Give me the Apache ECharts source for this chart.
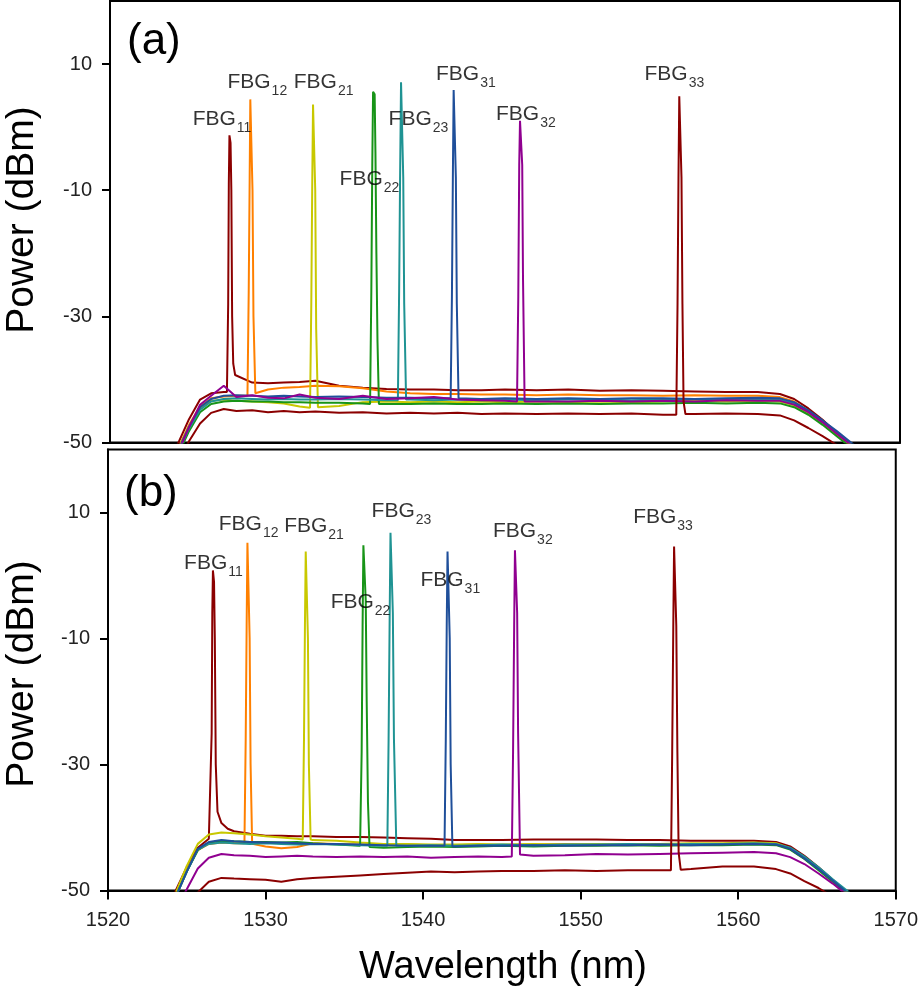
<!DOCTYPE html>
<html>
<head>
<meta charset="utf-8">
<script src="https://cdn.jsdelivr.net/npm/echarts@6/dist/echarts.min.js"></script>
<style>
  html, body { margin: 0; padding: 0; background: #fff; }
  #chart { width: 921px; height: 1000px; }
</style>
</head>
<body>
<div id="chart"></div>
<script>
'use strict';

// wavelength grid (nm) shared by the broadband floor of every trace
var wl = [1523.6, 1524.3, 1525.0, 1525.7, 1526.4, 1527.2, 1528.0, 1529.0, 1530.0, 1531.0,
  1532.0, 1533.0, 1534.5, 1536.0, 1537.5, 1539.0, 1540.5, 1542.0, 1543.5, 1545.0,
  1547.0, 1549.0, 1551.0, 1553.0, 1555.0, 1557.0, 1559.0, 1561.0, 1562.4, 1563.3,
  1564.2, 1565.1, 1566.0, 1566.8, 1567.6];

var fbgIds = ['11', '12', '21', '22', '23', '31', '32', '33'];

// panel (a) floors, dBm on wl
var floorA11 = [-53.5, -50.2, -46.3, -43.2, -42.2, -42.0, -39.6, -40.5, -40.6, -40.5, -40.4, -40.2, -41.0, -41.3, -41.5, -41.6, -41.6, -41.7, -41.7, -41.6, -41.7, -41.6, -41.8, -41.7, -41.8, -41.9, -42.0, -42.0, -42.3, -43.1, -44.6, -46.4, -48.5, -50.5, -53];
var floorA12 = [-54, -51, -47.2, -44.3, -43.0, -42.7, -42.6, -42.5, -41.6, -41.3, -41.2, -41.0, -41.1, -41.4, -41.9, -42.2, -42.3, -42.3, -42.4, -42.4, -42.5, -42.4, -42.5, -42.5, -42.6, -42.5, -42.6, -42.6, -42.8, -43.5, -45.0, -46.7, -48.5, -50.1, -52];
var floorA21 = [-54.2, -51.2, -47.5, -44.6, -43.4, -43.2, -43.4, -43.5, -43.6, -43.8, -44.3, -43.8, -44.2, -43.6, -43.5, -43.6, -43.5, -43.6, -43.5, -43.6, -43.5, -43.6, -43.5, -43.6, -43.5, -43.4, -43.5, -43.4, -43.5, -44.1, -45.4, -47.0, -48.8, -50.3, -52];
var floorA22 = [-55, -52, -48.2, -45.2, -43.9, -43.5, -43.4, -43.5, -43.5, -43.6, -43.6, -43.7, -43.7, -43.8, -43.9, -43.9, -43.8, -43.9, -43.9, -43.8, -43.9, -43.8, -43.9, -43.8, -43.8, -43.7, -43.8, -43.7, -43.8, -44.4, -45.6, -47.2, -49.0, -50.6, -52.3];
var floorA23 = [-54.6, -51.6, -47.8, -44.8, -43.5, -43.1, -43.0, -43.1, -43.2, -43.1, -43.2, -43.2, -43.1, -43.2, -43.3, -43.2, -43.3, -43.2, -43.3, -43.2, -43.3, -43.2, -43.2, -43.3, -43.2, -43.1, -43.2, -43.1, -43.2, -43.8, -45.1, -46.8, -48.5, -50, -51.7];
var floorA31 = [-54.4, -51.3, -47.5, -44.4, -43.1, -42.6, -42.5, -42.6, -42.7, -42.6, -42.7, -42.8, -42.7, -42.8, -42.9, -42.9, -43.0, -43.0, -43.1, -43.0, -43.1, -43.0, -43.1, -43.0, -43.0, -43.1, -43.0, -42.9, -43.0, -43.6, -44.9, -46.5, -48.2, -49.8, -51.4];
var floorA32 = [-54.8, -51.6, -47.6, -44.0, -42.6, -41.0, -42.8, -42.5, -42.9, -43.0, -42.4, -42.9, -43.1, -42.6, -43.1, -43.0, -42.8, -43.2, -43.3, -43.4, -43.5, -43.5, -43.4, -43.5, -43.4, -43.5, -43.3, -43.4, -43.4, -44.0, -45.2, -46.8, -48.6, -50.2, -52];
var floorA33 = [-57, -53.5, -49.8, -47.0, -45.3, -44.7, -45.0, -44.9, -45.2, -45.0, -45.2, -45.1, -45.3, -45.2, -45.4, -45.3, -45.4, -45.3, -45.5, -45.4, -45.5, -45.4, -45.5, -45.4, -45.6, -45.5, -45.4, -45.5, -45.7, -46.5, -47.7, -49.0, -50.4, -52, -54];

// panel (a) reflection peaks, [nm, dBm]
var peakA11 = [[1527.4, -42.0], [1527.48, -28], [1527.52, -9], [1527.56, -1.3], [1527.63, -2.5], [1527.68, -10], [1527.73, -30], [1527.8, -37.5], [1527.92, -39.3]];
var peakA12 = [[1528.7, -42.6], [1528.78, -26], [1528.84, -8], [1528.88, 4.4], [1528.97, 4.2], [1529.02, -10], [1529.08, -30], [1529.2, -42.2]];
var peakA21 = [[1532.66, -44.5], [1532.74, -28], [1532.8, -9], [1532.85, 3.6], [1532.94, 3.4], [1532.99, -10], [1533.05, -32], [1533.16, -44.4]];
var peakA22 = [[1536.46, -43.9], [1536.54, -26], [1536.6, -6], [1536.65, 5.6], [1536.75, 5.2], [1536.8, -4], [1536.86, -20], [1536.93, -34], [1537.02, -43.9]];
var peakA23 = [[1538.22, -43.3], [1538.3, -26], [1538.36, -8], [1538.42, 7.1], [1538.51, 6.8], [1538.56, -8], [1538.62, -28], [1538.74, -43.2]];
var peakA31 = [[1541.56, -43.0], [1541.64, -27], [1541.7, -8], [1541.75, 5.9], [1541.84, 5.6], [1541.89, -8], [1541.95, -28], [1542.06, -43.0]];
var peakA32 = [[1545.76, -43.5], [1545.84, -27], [1545.9, -6], [1545.95, 1.0], [1546.04, 0.8], [1546.09, -6], [1546.14, -24], [1546.24, -43.5]];
var peakA33 = [[1555.84, -45.6], [1555.92, -28], [1555.98, -8], [1556.03, 4.9], [1556.12, 4.6], [1556.17, -8], [1556.23, -28], [1556.3, -43.5], [1556.42, -45.5]];

// panel (b) floors
var floorB11 = [-53.5, -50, -46.3, -43.2, -41.8, -39.3, -40.6, -41.0, -41.3, -41.3, -41.4, -41.4, -41.5, -41.5, -41.6, -41.7, -41.8, -42.0, -42.0, -42.0, -41.9, -41.9, -41.9, -42.0, -42.0, -42.1, -42.1, -42.1, -42.3, -43.0, -44.5, -46.3, -48.3, -50.3, -52.5];
var floorB12 = [-54, -50.6, -46.7, -43.6, -42.6, -42.4, -42.5, -42.6, -43.0, -43.3, -43.1, -42.5, -42.6, -42.7, -42.8, -42.7, -42.8, -42.8, -42.7, -42.8, -42.7, -42.6, -42.7, -42.6, -42.6, -42.7, -42.6, -42.5, -42.6, -43.4, -44.9, -46.6, -48.4, -50.0, -52];
var floorB21 = [-54, -50.4, -46.1, -42.6, -41.1, -40.8, -40.9, -41.1, -41.4, -41.6, -41.8, -42.0, -42.1, -42.4, -42.6, -42.6, -42.7, -42.7, -42.6, -42.7, -42.6, -42.7, -42.6, -42.7, -42.6, -42.5, -42.5, -42.4, -42.5, -43.3, -44.8, -46.6, -48.4, -50.1, -52];
var floorB22 = [-54.5, -51, -47, -43.6, -42.4, -42.1, -42.2, -42.3, -42.3, -42.4, -42.3, -42.5, -42.7, -42.9, -43.2, -43.1, -43.0, -43.1, -43.0, -42.9, -43.0, -42.9, -42.9, -42.8, -42.9, -42.8, -42.8, -42.7, -42.8, -43.5, -45.0, -46.8, -48.6, -50.2, -52];
var floorB23 = [-54.5, -51, -47, -43.5, -42.6, -42.4, -42.5, -42.6, -42.5, -42.6, -42.7, -42.6, -42.7, -42.8, -42.9, -42.9, -42.8, -42.9, -42.8, -42.7, -42.8, -42.7, -42.7, -42.6, -42.7, -42.6, -42.6, -42.5, -42.6, -43.2, -44.6, -46.3, -48.2, -49.8, -51.5];
var floorB31 = [-54.5, -51, -47, -43.4, -42.3, -42.0, -42.2, -42.3, -42.4, -42.4, -42.5, -42.6, -42.6, -42.7, -42.8, -42.9, -42.9, -43.0, -42.9, -42.9, -42.8, -42.9, -42.8, -42.8, -42.7, -42.8, -42.7, -42.6, -42.7, -43.4, -44.9, -46.6, -48.4, -50.1, -52];
var floorB32 = [-56, -53, -49.8, -46.5, -44.8, -44.2, -44.4, -44.5, -44.7, -44.6, -44.5, -44.6, -44.7, -44.6, -44.7, -44.6, -44.8, -44.7, -44.6, -44.7, -44.5, -44.4, -44.2, -44.3, -44.2, -44.1, -44.0, -43.9, -44.1, -44.7, -45.8, -47.3, -48.9, -50.5, -52];
var floorB33 = [-60, -57, -54, -50.3, -48.6, -48.0, -48.1, -48.2, -48.3, -48.6, -48.2, -48.0, -47.8, -47.6, -47.4, -47.2, -47.0, -47.1, -47.0, -46.9, -46.9, -46.8, -46.9, -46.8, -46.8, -46.6, -46.2, -46.2, -46.6, -47.3, -48.5, -49.6, -51, -52.5, -54];

// panel (b) reflection peaks
var peakB11 = [[1526.5, -41.6], [1526.58, -25], [1526.62, -6], [1526.66, 0.8], [1526.73, -1], [1526.78, -10], [1526.84, -30], [1526.95, -37.5], [1527.2, -39.3], [1527.6, -40.2]];
var peakB12 = [[1528.66, -42.5], [1528.74, -26], [1528.8, -8], [1528.85, 5.2], [1528.94, 5.0], [1528.99, -10], [1529.05, -30], [1529.15, -42.6]];
var peakB21 = [[1532.36, -41.9], [1532.44, -26], [1532.5, -8], [1532.55, 3.8], [1532.64, 3.6], [1532.69, -10], [1532.75, -30], [1532.86, -41.9]];
var peakB22 = [[1536.03, -43.0], [1536.1, -28], [1536.16, -8], [1536.21, 4.8], [1536.31, 4.5], [1536.36, -4], [1536.42, -20], [1536.5, -36], [1536.6, -43.1]];
var peakB23 = [[1537.73, -42.9], [1537.81, -26], [1537.88, -6], [1537.93, 6.8], [1538.03, 6.6], [1538.08, -6], [1538.15, -26], [1538.3, -42.9]];
var peakB31 = [[1541.36, -42.9], [1541.44, -26], [1541.5, -8], [1541.55, 3.8], [1541.64, 3.5], [1541.69, -10], [1541.75, -30], [1541.86, -43.0]];
var peakB32 = [[1545.63, -44.6], [1545.71, -28], [1545.78, -8], [1545.83, 4.0], [1545.92, 3.8], [1545.97, -6], [1546.03, -25], [1546.15, -44.3]];
var peakB33 = [[1555.73, -46.8], [1555.81, -28], [1555.88, -8], [1555.93, 4.6], [1556.02, 4.3], [1556.07, -8], [1556.14, -28], [1556.22, -44], [1556.35, -46.7]];

// where the FBG names sit, [nm, dBm] of the left edge of each label
var labelPosA = [[1525.2, 1.3], [1527.4, 7.1], [1531.6, 7.1], [1534.5, -8.3], [1537.6, 1.3], [1540.6, 8.4], [1544.4, 2.1], [1553.8, 8.4]];
var labelPosB = [[1524.8, 2.0], [1527.0, 8.1], [1531.15, 7.9], [1534.1, -4.2], [1536.7, 10.2], [1539.8, -0.7], [1544.4, 7.1], [1553.3, 9.3]];

var colors = ['#8b0000', '#ff8000', '#c8c800', '#189418', '#1f9393', '#1f4f9a', '#900090', '#8b0000'];
var font = 'Liberation Sans';

// floor points left of the peak, the peak itself, then floor points right of it
function trace(floor, peak) {
  var lo = peak[0][0], hi = peak[peak.length - 1][0];
  var pts = [];
  wl.forEach(function (x, i) { if (x < lo) pts.push([x, floor[i]]); });
  peak.forEach(function (p) { pts.push(p); });
  wl.forEach(function (x, i) { if (x > hi) pts.push([x, floor[i]]); });
  return pts;
}

var floorsA = [floorA11, floorA12, floorA21, floorA22, floorA23, floorA31, floorA32, floorA33];
var peaksA = [peakA11, peakA12, peakA21, peakA22, peakA23, peakA31, peakA32, peakA33];
var floorsB = [floorB11, floorB12, floorB21, floorB22, floorB23, floorB31, floorB32, floorB33];
var peaksB = [peakB11, peakB12, peakB21, peakB22, peakB23, peakB31, peakB32, peakB33];

var series = [];
function addPanel(idx, floors, peaks, labelPos) {
  for (var i = 0; i < floors.length; i++) {
    series.push({
      type: 'line',
      xAxisIndex: idx,
      yAxisIndex: idx,
      data: trace(floors[i], peaks[i]),
      symbol: 'none',
      clip: true,
      silent: true,
      lineStyle: { color: colors[i], width: 2 },
      itemStyle: { color: colors[i] }
    });
  }
  series.push({
    type: 'scatter',
    xAxisIndex: idx,
    yAxisIndex: idx,
    symbolSize: 1,
    silent: true,
    itemStyle: { color: 'rgba(0,0,0,0)' },
    data: labelPos.map(function (p, i) { return { value: p, name: fbgIds[i] }; }),
    label: {
      show: true,
      position: 'right',
      distance: 0,
      color: '#000',
      formatter: function (p) { return '{m|FBG}{s|' + p.name + '}'; },
      rich: {
        m: { fontFamily: font, fontSize: 21, color: '#000' },
        s: { fontFamily: font, fontSize: 14, color: '#000', padding: [18, 0, 0, 1] }
      }
    },
    z: 5
  });
}
addPanel(0, floorsA, peaksA, labelPosA);
addPanel(1, floorsB, peaksB, labelPosB);

var yTicks = [-50, -30, -10, 10];
function yAxis(idx) {
  return {
    gridIndex: idx, type: 'value', min: -50, max: 20, interval: 20,
    axisLine: { show: true, lineStyle: { color: '#000', width: 2 } },
    axisTick: { show: true, customValues: yTicks, length: 8, lineStyle: { color: '#000', width: 2 } },
    axisLabel: { customValues: yTicks, margin: 18, fontSize: 20, color: '#222', fontFamily: font },
    splitLine: { show: false }
  };
}
function xAxis(idx, labels) {
  return {
    gridIndex: idx, type: 'value', min: 1520, max: 1570, interval: 10,
    axisLine: { show: true, onZero: false, lineStyle: { color: '#000', width: 2 } },
    axisTick: { show: labels, length: 9, lineStyle: { color: '#000', width: 2 } },
    axisLabel: {
      show: labels, margin: 20, fontSize: 20, color: '#222', fontFamily: font,
      formatter: function (v) { return String(v); }
    },
    splitLine: { show: false }
  };
}

var option = {
  backgroundColor: '#fff',
  animation: false,
  grid: [
    { left: 110, right: 21, top: 1, height: 441.5, show: true, borderColor: '#000', borderWidth: 2 },
    { left: 108, right: 24, top: 449.5, height: 441, show: true, borderColor: '#000', borderWidth: 2 }
  ],
  xAxis: [xAxis(0, false), xAxis(1, true)],
  yAxis: [yAxis(0), yAxis(1)],
  series: series,
  graphic: [
    { type: 'text', x: 127, y: 42, style: { text: '(a)', font: '44px "Liberation Sans"', fill: '#000', align: 'left', verticalAlign: 'middle' } },
    { type: 'text', x: 124, y: 494, style: { text: '(b)', font: '44px "Liberation Sans"', fill: '#000', align: 'left', verticalAlign: 'middle' } },
    { type: 'text', x: 22, y: 220, rotation: Math.PI / 2, style: { text: 'Power (dBm)', font: '39px "Liberation Sans"', fill: '#000', align: 'center', verticalAlign: 'middle' } },
    { type: 'text', x: 22, y: 674, rotation: Math.PI / 2, style: { text: 'Power (dBm)', font: '39px "Liberation Sans"', fill: '#000', align: 'center', verticalAlign: 'middle' } },
    { type: 'text', x: 503, y: 968, style: { text: 'Wavelength (nm)', font: '38px "Liberation Sans"', fill: '#000', align: 'center', verticalAlign: 'middle' } }
  ]
};

var myChart = echarts.init(document.getElementById('chart'), null, { renderer: 'canvas' });
myChart.setOption(option);
</script>
</body>
</html>
